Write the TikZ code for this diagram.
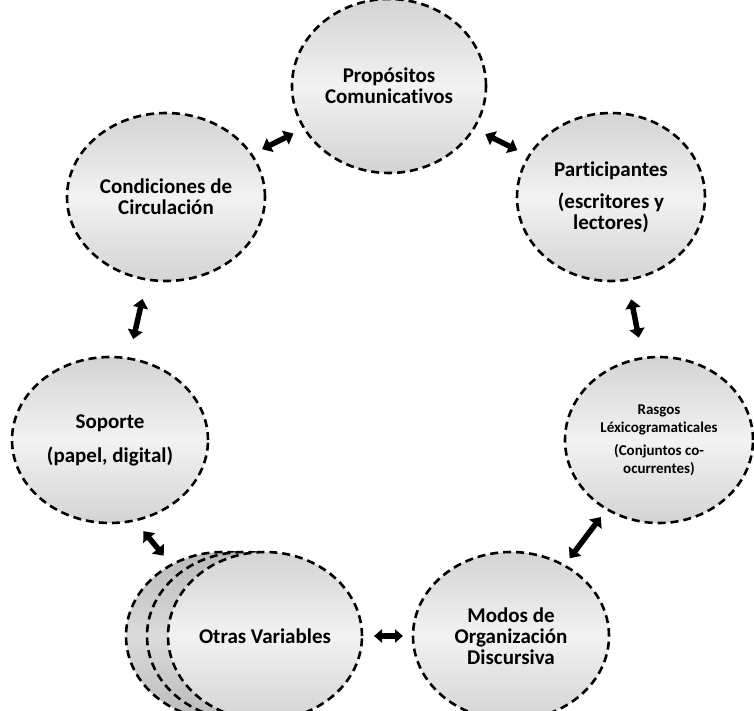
\documentclass[tikz,border=0pt]{standalone}
\usepackage{fontspec}
\setmainfont{Carlito}[Ligatures = NoCommon]
\usepackage{tikz}
\usetikzlibrary{shapes.geometric, arrows.meta}

\tikzset{
	burbuja/.style = {ellipse, draw = black, line width = 2.6pt, dash pattern = on 8pt off 5pt,
		top color = black!17, bottom color = black!17, middle color = black!5,
		inner sep = 0pt, outer sep = 0pt, align = center,
		font = \fontsize{21}{21}\selectfont\bfseries},
	fondo/.style = {burbuja, top color = black!27, bottom color = black!27, middle color = black!14},
	flecha/.style = {line width = 5.5pt, {Triangle[length = 9pt, width = 15pt]}-{Triangle[length = 9pt, width = 15pt]}}
}

\begin{document}
\begin{tikzpicture}[x = 1pt, y = -1pt]
		\def\rx{194pt};
		\def\ry{168pt};
		\def\desp{21};
		
		\useasboundingbox (0,0) rectangle (754,711);
		\clip (0,0) rectangle (754,711);
		
		\node [burbuja, minimum width = \rx, minimum height = 174pt] (prop) at (389,86) {Propósitos\\Comunicativos};
		\node [burbuja, minimum width = 198pt, minimum height = \ry] (cond) at (166,197) {Condiciones de\\Circulación};
		\node [burbuja, minimum width = 188pt, minimum height = \ry] (part) at (611,197) {Participantes\\[11pt](escritores y\\lectores)};
		\node [burbuja, minimum width = 196pt, minimum height = 166pt] (sop) at (110,440) {Soporte\\[13pt](papel, digital)};
		\node [burbuja, minimum width = 188pt, minimum height = 166pt, font = \fontsize{15}{18}\selectfont\bfseries] (ras) at (659,440) {Rasgos\\Léxicogramaticales\\[5pt](Conjuntos co-\\ocurrentes)};
		\node [burbuja, minimum width = 196pt, minimum height = \ry] (modos) at (511,636) {Modos de\\Organización\\Discursiva};
		
		% pila de otras variables
		\node [fondo, minimum width = \rx, minimum height = \ry] (otrasC) at ({265 - 2*\desp},636) {};
		\node [fondo, minimum width = \rx, minimum height = \ry] (otrasB) at ({265 - \desp},636) {};
		\node [burbuja, minimum width = \rx, minimum height = \ry] (otras) at (265,636) {Otras Variables};
		
		\draw [flecha, shorten <= 12pt, shorten >= 12pt] (cond) -- (prop);
		\draw [flecha, shorten <= 13pt, shorten >= 13pt] (prop) -- (part);
		\draw [flecha, shorten <= 20pt, shorten >= 20pt] (cond) -- (sop);
		\draw [flecha, shorten <= 20pt, shorten >= 21pt] (part) -- (ras);
		\draw [flecha, shorten <= 10pt, shorten >= 9pt] (ras) -- (modos);
		\draw [flecha, shorten <= 14pt, shorten >= 12pt] (sop.-73) -- (otrasC.126);
		\draw [flecha, shorten <= 12pt, shorten >= 10pt, {Triangle[length = 8pt, width = 13pt]}-{Triangle[length = 8pt, width = 13pt]}] (otras) -- (modos);
	\end{tikzpicture}
\end{document}
